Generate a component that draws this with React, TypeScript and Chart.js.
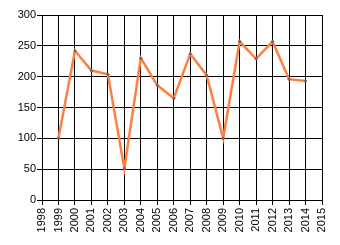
import React, { useEffect, useRef } from "react";
import { Chart, registerables } from "chart.js";

Chart.register(...registerables);

const years = [1999, 2000, 2001, 2002, 2003, 2004, 2005, 2006, 2007, 2008, 2009, 2010, 2011, 2012, 2013, 2014];
const values = [100, 242, 210, 204, 51, 230, 186, 165, 237, 202, 100, 257, 229, 257, 196, 193];
const xMin = 1998;
const xMax = 2015;
const yTicks = [0, 50, 100, 150, 200, 250, 300];

export default function App() {
  const ref = useRef<HTMLCanvasElement>(null);
  useEffect(() => {
    if (!ref.current) return;
    const font = { family: "Liberation Sans, Arial, sans-serif", size: 11 };
    const chart = new Chart(ref.current, {
      type: "line",
      data: {
        datasets: [
          {
            data: years.map((x, i) => ({ x, y: values[i] })),
            borderColor: "#FF7F3F",
            borderWidth: 2.5,
            pointRadius: 1.5,
            pointBackgroundColor: "#666666",
            pointBorderWidth: 0,
            tension: 0,
          },
        ],
      },
      options: {
        responsive: false,
        animation: false,
        layout: { padding: { top: 15, right: 18, left: 0, bottom: 0 } },
        plugins: { legend: { display: false }, tooltip: { enabled: false } },
        scales: {
          x: {
            type: "linear",
            min: xMin,
            max: xMax,
            afterFit: (s: any) => { s.height = 45; },
            ticks: {
              stepSize: 1,
              autoSkip: false,
              maxRotation: 90,
              minRotation: 90,
              color: "#000",
              font,
              padding: 3,
              callback: (v: any) => String(v),
            },
            grid: { color: "#000", lineWidth: 1, tickLength: 5 },
            border: { color: "#000", width: 1 },
          },
          y: {
            min: yTicks[0],
            max: yTicks[yTicks.length - 1],
            afterFit: (s: any) => { s.width = 42; },
            ticks: { stepSize: 50, color: "#000", font, padding: 1 },
            grid: { color: "#000", lineWidth: 1, tickLength: 5 },
            border: { color: "#000", width: 1 },
          },
        },
      },
    });
    return () => chart.destroy();
  }, []);
  return (
    <div style={{ position: "fixed", left: 0, top: 0, width: 340, height: 245, background: "#fff" }}>
      <canvas ref={ref} width={340} height={245} />
    </div>
  );
}
